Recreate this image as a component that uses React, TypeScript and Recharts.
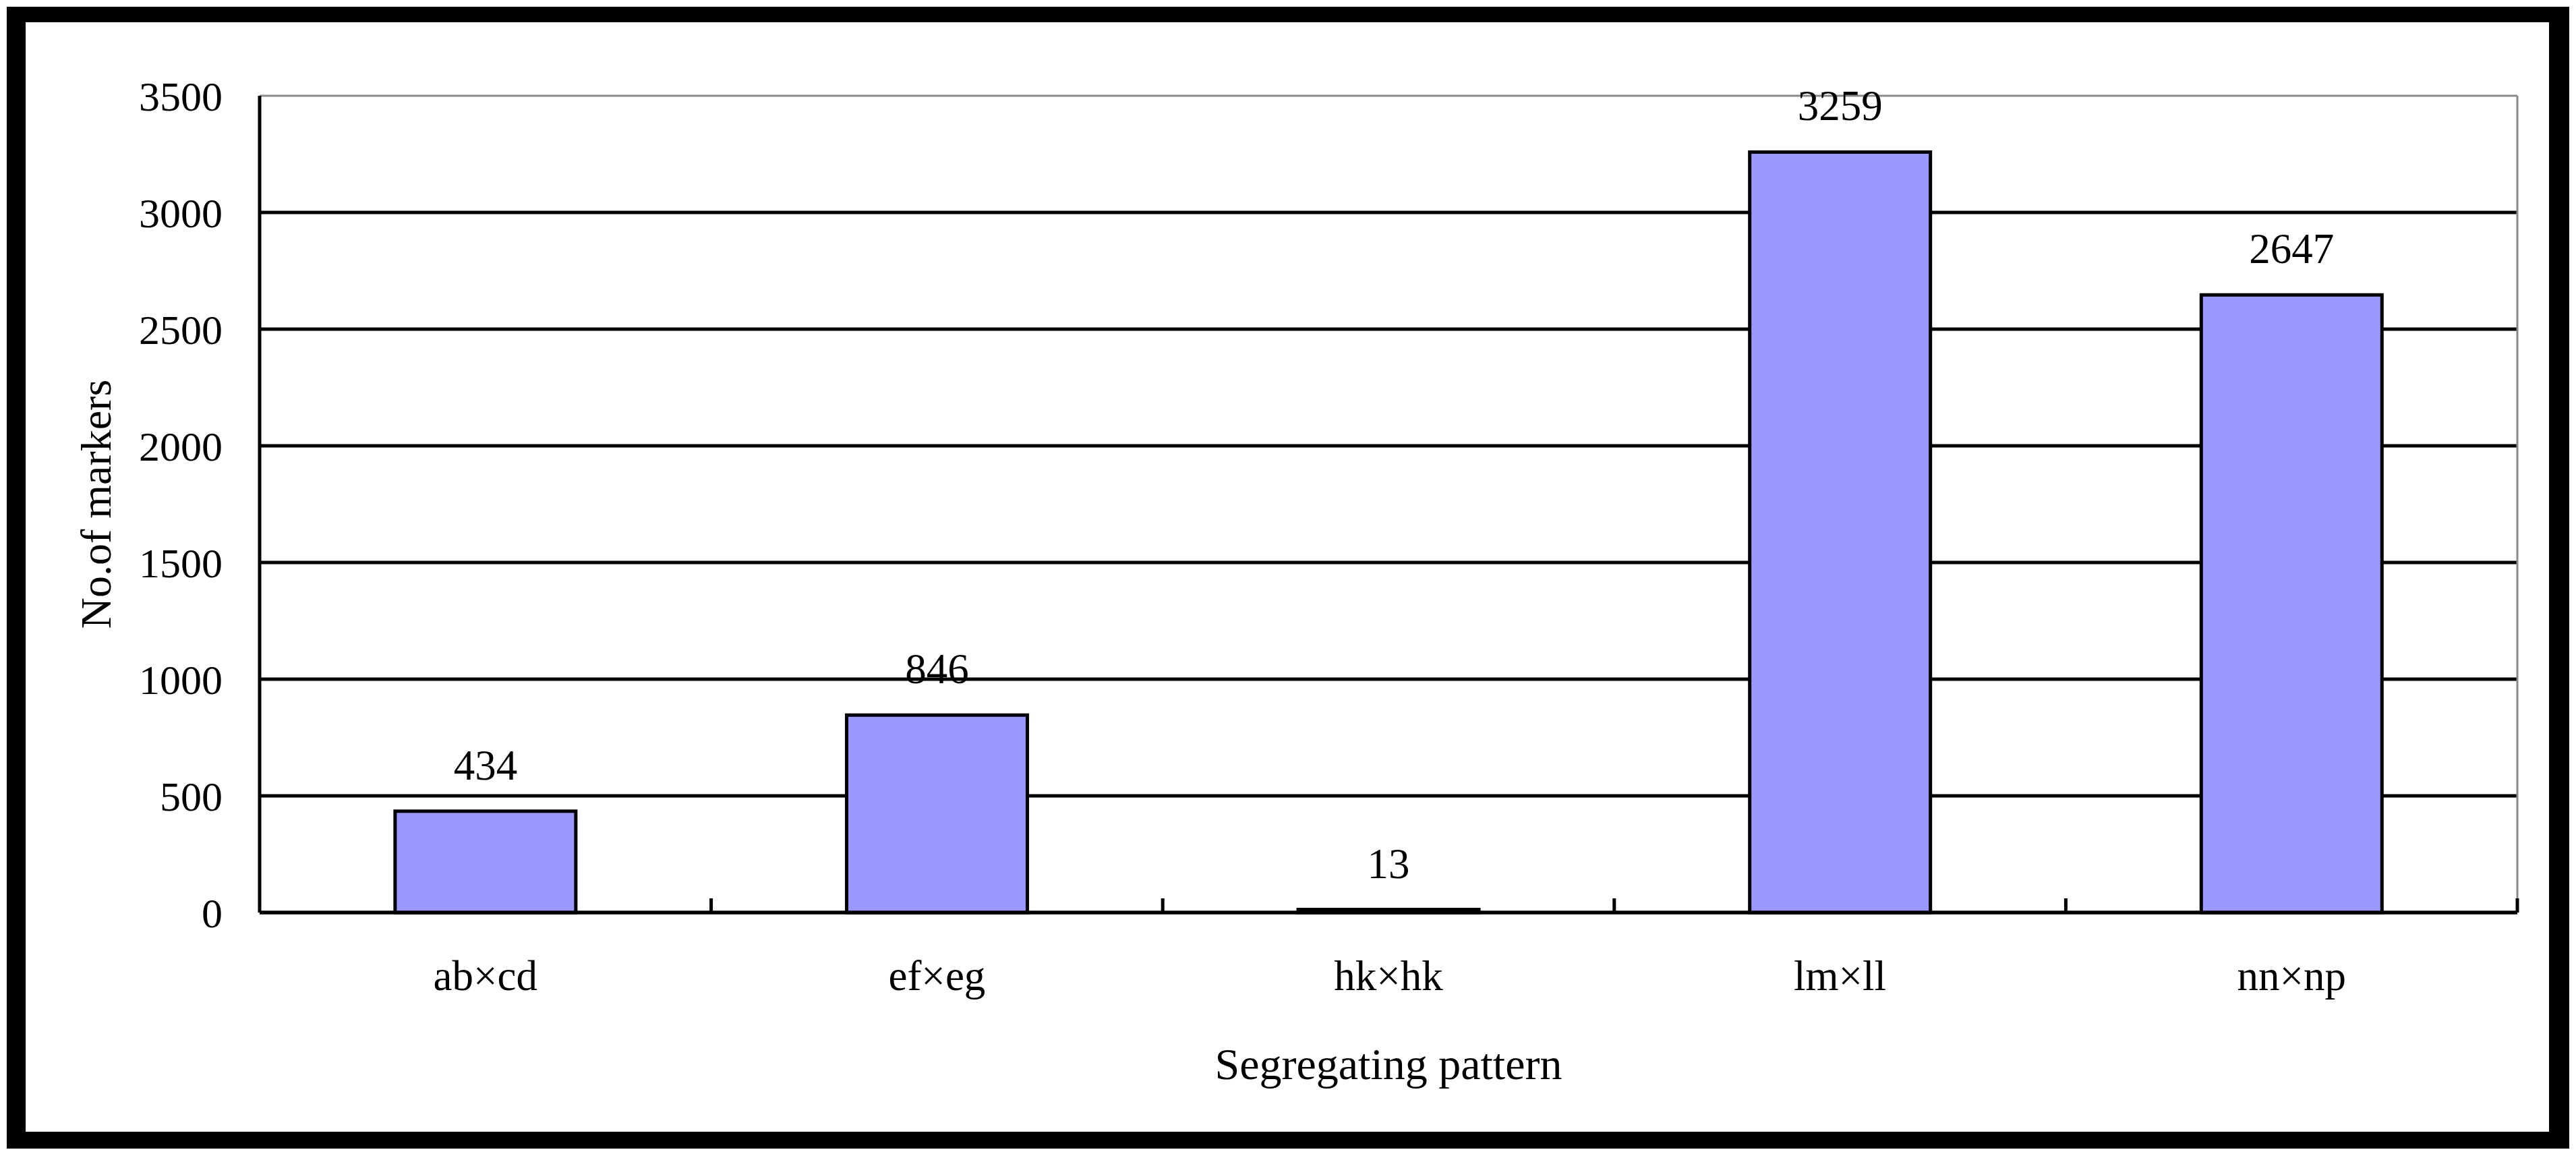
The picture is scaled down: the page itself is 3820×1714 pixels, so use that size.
import {
  BarChart,
  Bar,
  XAxis,
  YAxis,
  CartesianGrid,
  LabelList,
} from "recharts";

const patterns = ["ab×cd", "ef×eg", "hk×hk", "lm×ll", "nn×np"];
const markerCounts = [434, 846, 13, 3259, 2647];
const yTicks = [0, 500, 1000, 1500, 2000, 2500, 3000, 3500];

const rows = patterns.map((pattern, i) => ({ pattern, markers: markerCounts[i] }));

const FONT = '"Liberation Serif", "Times New Roman", serif';
const CHART_W = 3742;
const CHART_H = 1645;
const MARGIN = { top: 109, right: 46, bottom: 0, left: 0 };
const Y_AXIS_W = 347;
const X_AXIS_H = 325;
const PLOT_W = CHART_W - MARGIN.left - MARGIN.right - Y_AXIS_W - 1;
const BAND = PLOT_W / patterns.length;
const X_TICK_GAP = 71;

// category ticks sit on the boundaries between bars and point up into the plot
const XTick = (props: any) => {
  const { x, y, payload } = props;
  const axisY = y - X_TICK_GAP;
  return (
    <g>
      <line
        x1={x + BAND / 2}
        x2={x + BAND / 2}
        y1={axisY}
        y2={axisY - 21}
        stroke="#000"
        strokeWidth={5}
      />
      <text x={x} y={y} dy={44} textAnchor="middle" fill="#000" fontSize={63} fontFamily={FONT}>
        {payload.value}
      </text>
    </g>
  );
};

const gridLine = (p: any) => {
  const isTop = p.y1 < MARGIN.top + 2;
  return (
    <line
      key={p.key ?? p.index}
      x1={p.x1}
      y1={p.y1}
      x2={p.x2}
      y2={p.y2}
      stroke={isTop ? "#8a8a8a" : "#000"}
      strokeWidth={isTop ? 3 : 5}
    />
  );
};

export default function App() {
  return (
    <div style={{ paddingTop: 2, paddingLeft: 2 }}>
      <div
        style={{
          width: CHART_W,
          height: CHART_H,
          borderStyle: "solid",
          borderColor: "#000",
          borderWidth: "23px 30px 25px 28px",
          background: "#fff",
        }}
      >
        <BarChart
          width={CHART_W}
          height={CHART_H}
          data={rows}
          margin={MARGIN}
          barCategoryGap="30%"
        >
          <CartesianGrid vertical={false} horizontal={gridLine} />
          <XAxis
            dataKey="pattern"
            height={X_AXIS_H}
            axisLine={{ stroke: "#000", strokeWidth: 5 }}
            tickLine={false}
            tickSize={0}
            tickMargin={X_TICK_GAP}
            tick={<XTick />}
            interval={0}
            label={{
              value: "Segregating pattern",
              position: "insideBottom",
              offset: 78,
              fill: "#000",
              fontSize: 66,
              fontFamily: FONT,
            }}
          />
          <YAxis
            width={Y_AXIS_W}
            domain={[0, 3500]}
            ticks={yTicks}
            interval={0}
            axisLine={{ stroke: "#000", strokeWidth: 5 }}
            tickLine={false}
            tickSize={0}
            tickMargin={55}
            tick={{ fill: "#000", fontSize: 62, fontFamily: FONT }}
            label={{
              value: "No.of markers",
              angle: -90,
              position: "insideLeft",
              offset: 103,
              fill: "#000",
              fontSize: 64,
              fontFamily: FONT,
              style: { textAnchor: "middle" },
            }}
          />
          <YAxis
            yAxisId="frame"
            orientation="right"
            width={1}
            domain={[0, 3500]}
            tick={false}
            tickLine={false}
            axisLine={{ stroke: "#8a8a8a", strokeWidth: 3 }}
          />
          <Bar
            dataKey="markers"
            fill="#9999FF"
            stroke="#000"
            strokeWidth={5}
            isAnimationActive={false}
          >
            <LabelList
              dataKey="markers"
              position="top"
              offset={47}
              fill="#000"
              fontSize={63}
              fontFamily={FONT}
            />
          </Bar>
        </BarChart>
      </div>
    </div>
  );
}
